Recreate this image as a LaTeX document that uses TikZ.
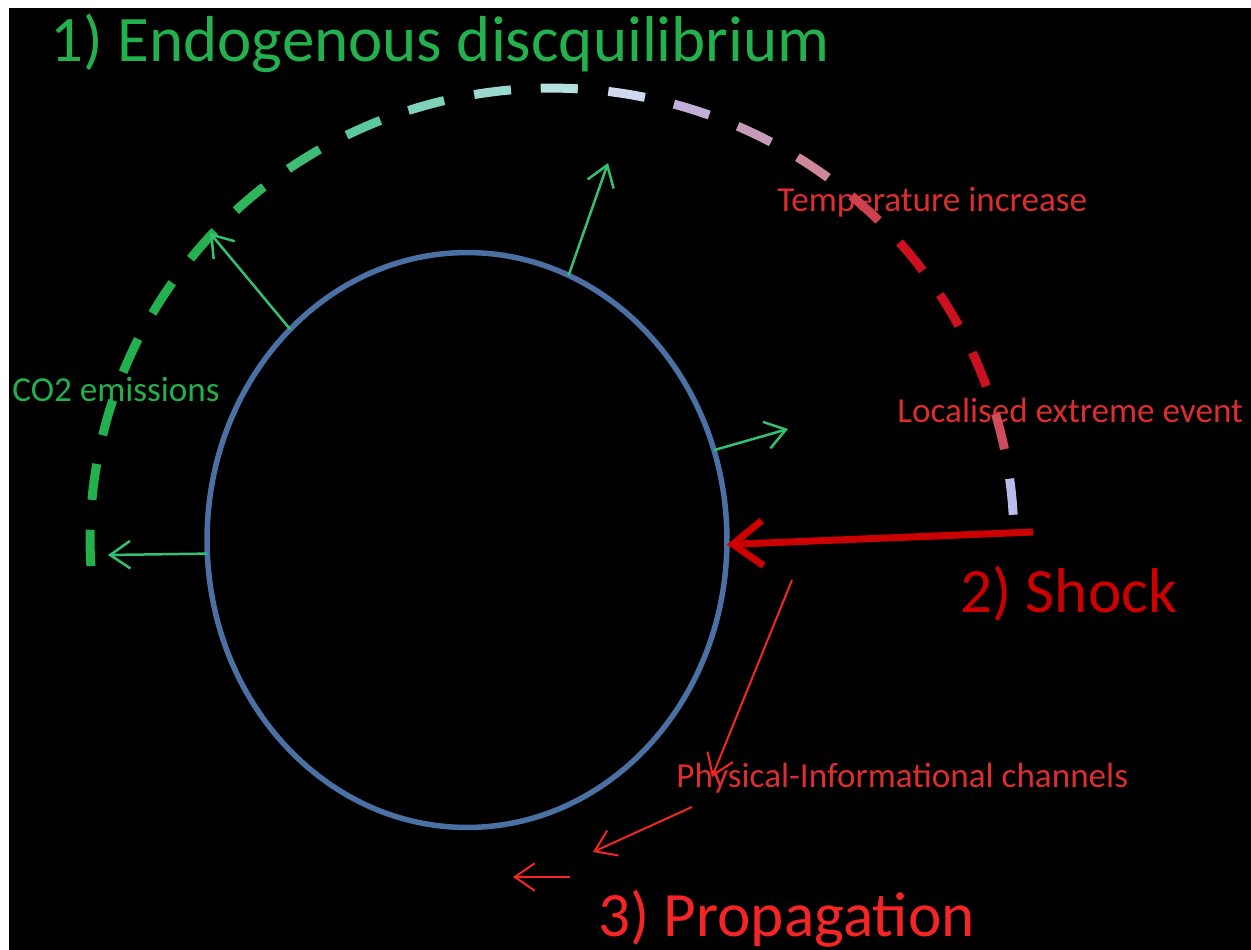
\documentclass[tikz,border=0pt]{standalone}
\usepackage{fontspec}
\setmainfont{Carlito}
\usetikzlibrary{arrows.meta, shapes.geometric, positioning}

\definecolor{sysblue}{HTML}{4A70A4}
\definecolor{titlegreen}{HTML}{22B14C}
\definecolor{arrowgreen}{HTML}{33C070}
\definecolor{labred}{HTML}{DC2E2E}
\definecolor{shockred}{HTML}{CC0000}
\definecolor{propred}{HTML}{F52525}
\definecolor{arcgreen}{HTML}{22B14C}
\definecolor{arcmint}{HTML}{5CC8A0}
\definecolor{arccyan}{HTML}{B4E0E0}
\definecolor{arcpale}{HTML}{D0D8F0}
\definecolor{arclilac}{HTML}{C0B0D8}
\definecolor{arcpink}{HTML}{D08898}
\definecolor{arcred}{HTML}{CC1020}
\definecolor{arcblue}{HTML}{B8BCEC}

\begin{document}
\begin{tikzpicture}[x=0.02cm, y=-0.02cm,
    big/.style={font=\fontsize{36}{40}\selectfont, inner sep=0pt, anchor=base west},
    lab/.style={font=\fontsize{20}{22}\selectfont, inner sep=0pt, anchor=west},
    outarrow/.style={draw=arrowgreen, line width=0.05cm, -{Straight Barb[length=0.4cm, width=0.55cm]}},
    proparrow/.style={draw=propred, line width=0.04cm, -{Straight Barb[length=0.4cm, width=0.55cm]}},
    shockarrow/.style={draw=shockred, line width=0.14cm, -{Straight Barb[length=0.6cm, width=0.9cm]}},
    dsh/.style={line width=0.18cm}]
    \useasboundingbox (0,0) rectangle (1251,950);
    \fill[white] (0,0) rectangle (1251,950);
    \fill[black] (9,8) rectangle (1251,950);

    \node[draw=sysblue, line width=0.11cm, ellipse, minimum width=10.4cm, minimum height=11.5cm,
        inner sep=0pt, outer sep=0pt] (sys) at (467,540) {};

    \node[big, text=titlegreen, font=\fontsize{37}{40}\selectfont] (endo) at (50,61) {1) Endogenous discquilibrium};
    \node[lab, text=titlegreen] (co2) at (12,390) {CO2 emissions};
    \node[lab, text=labred] (temp) at (777,202) {Temperature increase};
    \node[lab, text=labred] (local) at (897,410) {Localised extreme event};
    \node[big, text=shockred] (shock) at (960,612) {2) Shock};
    \node[lab, text=labred] (chan) at (676,778) {Physical-Informational channels};
    \node[big, text=propred] (propag) at (598,936) {3) Propagation};

    % dashed boundary, green to red
    \coordinate (ctr) at (552,540);
    \foreach \a/\c in {181/arcgreen, 172.6/arcgreen, 164.3/arcgreen, 155.9/arcgreen, 147.6/arcgreen,
        139.2/arcgreen, 130.9/arcgreen!80!arcmint, 122.5/arcgreen!50!arcmint, 114.1/arcmint,
        105.8/arcmint!60!arccyan, 97.4/arccyan!70!arcmint, 89.1/arccyan, 80.7/arcpale, 72.4/arclilac,
        64.0/arclilac!50!arcpink, 55.6/arcpink, 47.3/arcpink!40!arcred, 38.9/arcred, 30.6/arcred,
        22.2/arcred, 13.9/arcred!50!arcpink, 5.5/arcblue}
        \draw[dsh, draw=\c] ([shift={(\a+2.3:9.24cm and 9.04cm)}]ctr)
            arc[start angle=\a+2.3, end angle=\a-2.3, x radius=9.24cm, y radius=9.04cm];

    \coordinate (g1) at (108,555);
    \coordinate (g2) at (210,233);
    \coordinate (g3) at (608,163);
    \coordinate (g4) at (788,429);
    \draw[outarrow] (sys.183) -- (g1);
    \draw[outarrow] (sys.130) -- (g2);
    \draw[outarrow] (sys.69) -- (g3);
    \draw[outarrow] (sys.20) -- (g4);

    \coordinate (stail) at (1033,532);
    \draw[shockarrow] (stail) -- (sys.-1);

    \coordinate (r1a) at (792,580);
    \coordinate (r1b) at (712,777);
    \coordinate (r2a) at (692,807);
    \coordinate (r2b) at (593,852);
    \coordinate (r3a) at (570,877);
    \coordinate (r3b) at (513,877);
    \draw[proparrow] (r1a) -- (r1b);
    \draw[proparrow] (r2a) -- (r2b);
    \draw[proparrow] (r3a) -- (r3b);
\end{tikzpicture}
\end{document}
